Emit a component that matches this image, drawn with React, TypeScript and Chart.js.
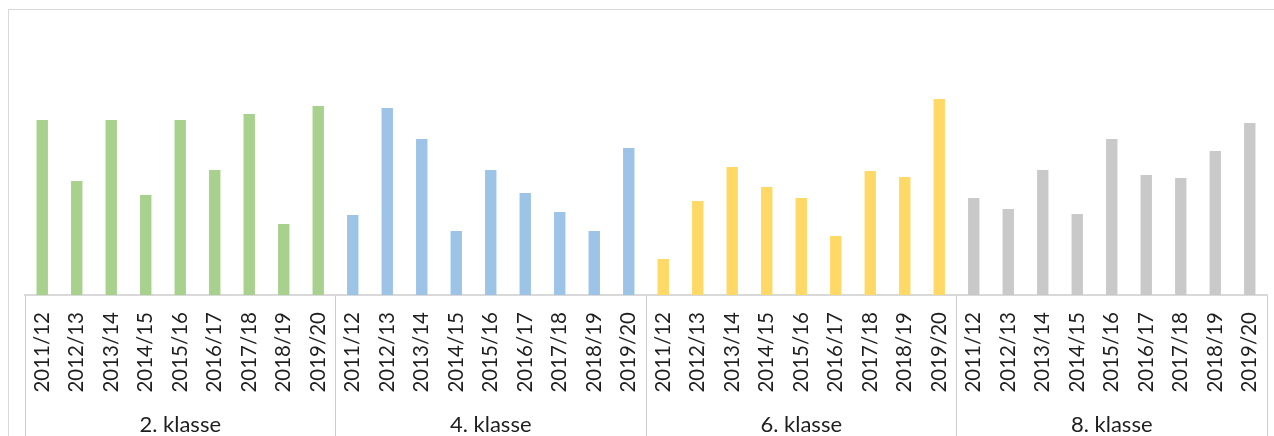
import React, { useEffect, useRef } from 'react';
import { Chart, registerables } from 'chart.js';

Chart.register(...registerables);

// ---- data ----
const years = ['2011/12', '2012/13', '2013/14', '2014/15', '2015/16', '2016/17', '2017/18', '2018/19', '2019/20'];
const groups = ['2. klasse', '4. klasse', '6. klasse', '8. klasse'];
const klasse2 = [175, 114, 175, 100, 175, 125, 181, 71, 189];
const klasse4 = [80, 187, 156, 64, 125, 102, 83, 64, 147];
const klasse6 = [36, 94, 128, 108, 97, 59, 124, 118, 196];
const klasse8 = [97, 86, 125, 81, 156, 120, 117, 144, 172];
const seriesColors = ['#a9d18e', '#9dc3e6', '#ffd966', '#c9c9c9'];
const yMax = 250;

const seriesList = [klasse2, klasse4, klasse6, klasse8];
const yearLabels = groups.flatMap(() => years);
const groupLabels = groups.flatMap((g) => years.map((_, i) => (i === Math.floor(years.length / 2) ? g : '')));

export default function App() {
  const ref = useRef<HTMLCanvasElement | null>(null);

  useEffect(() => {
    if (!ref.current) return;
    const n = years.length;
    const datasets = seriesList.map((vals, gi) => ({
      label: groups[gi],
      data: yearLabels.map((_, idx) => (Math.floor(idx / n) === gi ? vals[idx % n] : null)),
      backgroundColor: seriesColors[gi],
      borderWidth: 0,
      grouped: false,
      barPercentage: 0.33,
      categoryPercentage: 1,
    }));
    const sep = (ctx: any) =>
      ctx.index === undefined || ctx.index % n === 0 ? '#cccccc' : 'rgba(0,0,0,0)';
    const textColor = '#1f1f1f';

    const chart = new Chart(ref.current, {
      type: 'bar',
      data: { labels: yearLabels, datasets: datasets as any },
      options: {
        responsive: false,
        animation: false,
        devicePixelRatio: 1,
        layout: { padding: { left: 16, right: 7, top: 35, bottom: 0 } },
        plugins: { legend: { display: false }, tooltip: { enabled: false }, title: { display: false } },
        scales: {
          y: { display: false, min: 0, max: yMax },
          x: {
            type: 'category',
            position: 'bottom',
            weight: 0,
            offset: true,
            border: { display: true, color: '#d9d9d9', width: 2 },
            grid: {
              offset: true,
              drawOnChartArea: false,
              drawTicks: true,
              tickLength: 108,
              color: sep,
              tickColor: sep,
              lineWidth: 1,
            },
            ticks: {
              autoSkip: false,
              minRotation: 90,
              maxRotation: 90,
              padding: -91,
              color: textColor,
              font: { family: 'Lato', size: 20.5 },
            },
            afterFit: (s: any) => {
              s.height = 108;
            },
          },
          x2: {
            type: 'category',
            position: 'bottom',
            weight: 1,
            labels: groupLabels,
            offset: true,
            border: { display: false },
            grid: {
              offset: true,
              drawOnChartArea: false,
              drawTicks: true,
              tickLength: 60,
              color: sep,
              tickColor: sep,
              lineWidth: 1,
            },
            ticks: {
              autoSkip: false,
              minRotation: 0,
              maxRotation: 0,
              padding: -51,
              color: textColor,
              font: { family: 'Lato', size: 22 },
            },
            afterFit: (s: any) => {
              s.height = 57;
            },
          },
        } as any,
      },
    });
    return () => chart.destroy();
  }, []);

  return (
    <div
      style={{
        position: 'absolute',
        left: 8,
        top: 9,
        width: 1265,
        height: 426,
        overflow: 'hidden',
        borderLeft: '1px solid #d9d9d9',
        borderTop: '1px solid #d9d9d9',
        background: '#ffffff',
      }}
    >
      <canvas ref={ref} width={1265} height={450} style={{ display: 'block', width: 1265, height: 450 }} />
    </div>
  );
}
